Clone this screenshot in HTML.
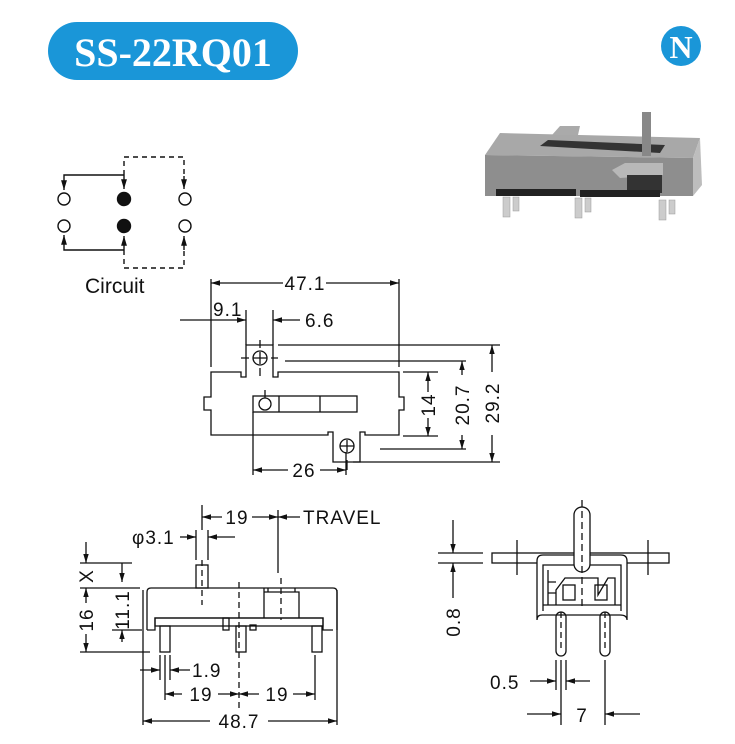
<!DOCTYPE html>
<html><head><meta charset="utf-8"><style>
html,body{margin:0;padding:0;background:#fff;}
svg{display:block}
text{font-family:"Liberation Sans",Arial,sans-serif;fill:#111}
</style></head><body>
<svg width="735" height="744" viewBox="0 0 735 744" xmlns="http://www.w3.org/2000/svg">
<defs>
<marker id="a" viewBox="0 0 10 10" refX="10" refY="5" markerWidth="7" markerHeight="7" orient="auto-start-reverse"><path d="M0,2 L10,5 L0,8 z" fill="#111"/></marker>
</defs>
<!-- title -->
<rect x="48" y="22" width="250" height="58" rx="29" fill="#1a96d8"/>
<text x="173" y="66" text-anchor="middle" style="font-family:'Liberation Serif',serif;font-weight:bold;font-size:40px;fill:#fff">SS-22RQ01</text>
<circle cx="681" cy="46" r="20" fill="#1a96d8"/>
<text x="681" y="58" text-anchor="middle" style="font-family:'Liberation Serif',serif;font-weight:bold;font-size:32px;fill:#fff">N</text>

<!-- photo -->
<g>
<polygon points="485,155 500,133 700,138 693,158" fill="#a8a8a8"/>
<polygon points="540,146 548,140 665,145 660,153" fill="#333"/>
<polygon points="485,155 693,158 693,196 485,196" fill="#8e8e8e"/>
<polygon points="693,158 700,138 702,185 693,196" fill="#bdbdbd"/>
<polygon points="552,135 560,126 580,126 578,135" fill="#aaa"/>
<rect x="642" y="112" width="9" height="44" fill="#888"/>
<polygon points="612,170 625,163 663,163 663,175 620,178" fill="#b8b8b8"/>
<rect x="627" y="175" width="35" height="18" fill="#333"/>
<rect x="496" y="189" width="80" height="7" fill="#222"/>
<rect x="580" y="190" width="80" height="7" fill="#222"/>
<g fill="#ccc" stroke="#999" stroke-width="0.5">
<rect x="503" y="197" width="7" height="20"/><rect x="513" y="197" width="6" height="14"/>
<rect x="575" y="198" width="7" height="20"/><rect x="585" y="198" width="6" height="14"/>
<rect x="659" y="200" width="7" height="20"/><rect x="669" y="200" width="6" height="14"/>
</g>
</g>

<!-- circuit -->
<g stroke="#111" stroke-width="1.4" fill="none">
<circle cx="64" cy="199" r="6"/><circle cx="64" cy="226" r="6"/>
<circle cx="185" cy="199" r="6"/><circle cx="185" cy="226" r="6"/>
<circle cx="124" cy="199" r="6.5" fill="#111"/><circle cx="124" cy="226" r="6.5" fill="#111"/>
<path d="M124,175 L64,175 L64,190" marker-end="url(#a)"/>
<path d="M124,175 L124,189" marker-end="url(#a)"/>
<path d="M124,250 L64,250 L64,235" marker-end="url(#a)"/>
<path d="M124,250 L124,236" marker-end="url(#a)"/>
<path d="M124,175 L124,157 L184,157 L184,176" stroke-dasharray="5,4"/>
<path d="M124,250 L124,268 L184,268 L184,250" stroke-dasharray="5,4"/>
<path d="M184,176 L184,189" marker-end="url(#a)"/>
<path d="M184,250 L184,236" marker-end="url(#a)"/>
</g>
<text x="85" y="293" style="font-size:21px">Circuit</text>

<!-- top view -->
<g stroke="#111" stroke-width="1.3" fill="none">
<path d="M211,372 L241,372 L241,377 L246,377 L246,345 L273,345 L273,377 L278,377 L278,372 L399,372 L399,397 L404,397 L404,410 L399,410 L399,435 L365,435 L365,432 L360,432 L360,462 L333,462 L333,432 L328,432 L328,435 L211,435 L211,410 L204,410 L204,397 L211,397 Z"/>
<circle cx="260" cy="358" r="7"/><path d="M260,352 L260,364 M253,358 L267,358 M260,340 L260,348 M260,368 L260,376 M241,358 L249,358 M271,358 L278,358"/>
<circle cx="347" cy="446" r="7"/><path d="M347,440 L347,452 M340,446 L354,446 M347,460 L347,470"/>
<rect x="253" y="396" width="104" height="16"/><path d="M279,396 L279,412 M320,396 L320,412"/>
<circle cx="265" cy="404" r="6"/><path d="M265,390 L265,398"/>
<path d="M211,367 L211,279 M399,367 L399,279"/>
<path d="M283,283 L211,283" marker-end="url(#a)"/><path d="M326,283 L399,283" marker-end="url(#a)"/>
<path d="M180,320 L246,320" marker-end="url(#a)"/><path d="M300,320 L273,320" marker-end="url(#a)"/>
<path d="M246,310 L246,345 M273,310 L273,345"/>
<path d="M278,345 L500,345 M285,361 L466,361 M403,372 L438,372 M403,436 L438,436 M380,449 L466,449 M353,462 L500,462"/>
<path d="M428,392 L428,372" marker-end="url(#a)"/><path d="M428,418 L428,436" marker-end="url(#a)"/>
<path d="M462,375 L462,361" marker-end="url(#a)"/><path d="M462,435 L462,449" marker-end="url(#a)"/>
<path d="M492,372 L492,345" marker-end="url(#a)"/><path d="M492,435 L492,462" marker-end="url(#a)"/>
<path d="M253,412 L253,475 M346,452 L346,475"/>
<path d="M288,470 L253,470" marker-end="url(#a)"/><path d="M320,470 L346,470" marker-end="url(#a)"/>
</g>
<g style="font-size:19px;letter-spacing:1px">
<text x="305" y="290" text-anchor="middle">47.1</text>
<text x="213" y="316">9.1</text>
<text x="305" y="327">6.6</text>
<text x="304" y="477" text-anchor="middle">26</text>
<text transform="translate(435,405) rotate(-90)" text-anchor="middle">14</text>
<text transform="translate(469,405) rotate(-90)" text-anchor="middle">20.7</text>
<text transform="translate(499,403) rotate(-90)" text-anchor="middle">29.2</text>
</g>

<!-- bottom left -->
<g stroke="#111" stroke-width="1.3" fill="none">
<path d="M147,630 L147,592 Q147,588 151,588 L333,588 Q337,588 337,592 L337,630"/>
<path d="M143,598 L143,590 M337,598 L337,590"/>
<path d="M147,630 L155,630 L155,618 L323,618 L323,630 L333,630"/>
<rect x="155" y="618" width="168" height="8"/>
<rect x="223" y="618" width="6" height="12"/>
<rect x="250" y="625" width="6" height="5"/>
<rect x="160" y="626" width="10" height="26"/><rect x="236" y="626" width="10" height="26"/><rect x="312" y="626" width="10" height="26"/>
<rect x="196" y="565" width="12" height="23"/>
<path d="M264,618 L264,592 L299,592 L299,618 M264,588 L264,592 M268,588 L268,592 M295,588 L295,592"/>
<path d="M202,560 L202,605 M239,582 L239,710 M281,578 L281,620" stroke-dasharray="6,4"/>
<path d="M202,505 L202,530 M278,510 L278,573 M196,530 L196,560 M208,530 L208,560"/>
<path d="M222,517 L202,517" marker-end="url(#a)"/><path d="M252,517 L278,517" marker-end="url(#a)"/>
<path d="M300,517 L278,517" marker-end="url(#a)"/>
<path d="M180,537 L196,537" marker-end="url(#a)"/><path d="M235,537 L208,537" marker-end="url(#a)"/>
<path d="M80,563 L132,563 M80,588 L140,588 M80,652 L150,652 M112,630 L142,630"/>
<path d="M86,542 L86,563" marker-end="url(#a)"/><path d="M86,603 L86,588" marker-end="url(#a)"/>
<path d="M86,634 L86,652" marker-end="url(#a)"/>
<path d="M122,563 L122,582" marker-end="url(#a)"/><path d="M122,642 L122,630" marker-end="url(#a)"/>
<path d="M143,598 L143,725 M337,598 L337,725 M160,655 L160,680 M170,655 L170,680 M165,655 L165,700 M315,655 L315,700"/>
<path d="M140,670 L160,670" marker-end="url(#a)"/><path d="M190,670 L170,670" marker-end="url(#a)"/>
<path d="M182,694 L165,694" marker-end="url(#a)"/><path d="M218,694 L239,694" marker-end="url(#a)"/>
<path d="M259,694 L239,694" marker-end="url(#a)"/><path d="M293,694 L315,694" marker-end="url(#a)"/>
<path d="M210,721 L143,721" marker-end="url(#a)"/><path d="M268,721 L337,721" marker-end="url(#a)"/>
</g>
<g style="font-size:19px;letter-spacing:1px">
<text x="237" y="524" text-anchor="middle">19</text>
<text x="303" y="524">TRAVEL</text>
<text x="132" y="544">φ3.1</text>
<text transform="translate(93,576) rotate(-90)" text-anchor="middle">X</text>
<text transform="translate(93,620) rotate(-90)" text-anchor="middle">16</text>
<text transform="translate(129,610) rotate(-90)" text-anchor="middle">11.1</text>
<text x="192" y="677">1.9</text>
<text x="201" y="701" text-anchor="middle">19</text>
<text x="277" y="701" text-anchor="middle">19</text>
<text x="239" y="728" text-anchor="middle">48.7</text>
</g>

<!-- bottom right -->
<g stroke="#111" stroke-width="1.3" fill="none">
<rect x="492" y="553" width="177" height="10"/>
<path d="M517,540 L517,575 M648,540 L648,575"/>
<path d="M537,620 L537,561 Q537,555 543,555 L621,555 Q627,555 627,561 L627,620 Q627,615 620,615 L542,615 Q537,615 537,620 Z" fill="#fff"/>
<path d="M543,611 L543,565 L621,565 L621,611 M543,605 L621,605 M548,570 L548,605 M548,582 L556,582 M548,593 L556,593"/>
<path d="M556,605 L556,590 L565,578 L598,578 L598,595 L608,578 L615,578 L615,605"/>
<rect x="563" y="585" width="12" height="15"/><rect x="595" y="585" width="12" height="15"/>
<rect x="574" y="507" width="16" height="65" rx="8" fill="#fff"/>
<path d="M582,500 L582,610" stroke-dasharray="7,4"/>
<rect x="556" y="612" width="10" height="44" rx="5"/><rect x="600" y="612" width="10" height="44" rx="5"/>
<path d="M561,612 L561,650 M605,612 L605,650" stroke-dasharray="6,4"/>
<path d="M438,553 L483,553 M438,563 L483,563"/>
<path d="M453,520 L453,553" marker-end="url(#a)"/><path d="M453,598 L453,563" marker-end="url(#a)"/>
<path d="M556,660 L556,690 M566,660 L566,690 M561,660 L561,725 M605,660 L605,725"/>
<path d="M530,681 L556,681" marker-end="url(#a)"/><path d="M590,681 L566,681" marker-end="url(#a)"/>
<path d="M527,714 L561,714" marker-end="url(#a)"/><path d="M640,714 L605,714" marker-end="url(#a)"/>
</g>
<g style="font-size:19px;letter-spacing:1px">
<text transform="translate(460,622) rotate(-90)" text-anchor="middle">0.8</text>
<text x="490" y="689">0.5</text>
<text x="582" y="722" text-anchor="middle">7</text>
</g>
</svg>
</body></html>
